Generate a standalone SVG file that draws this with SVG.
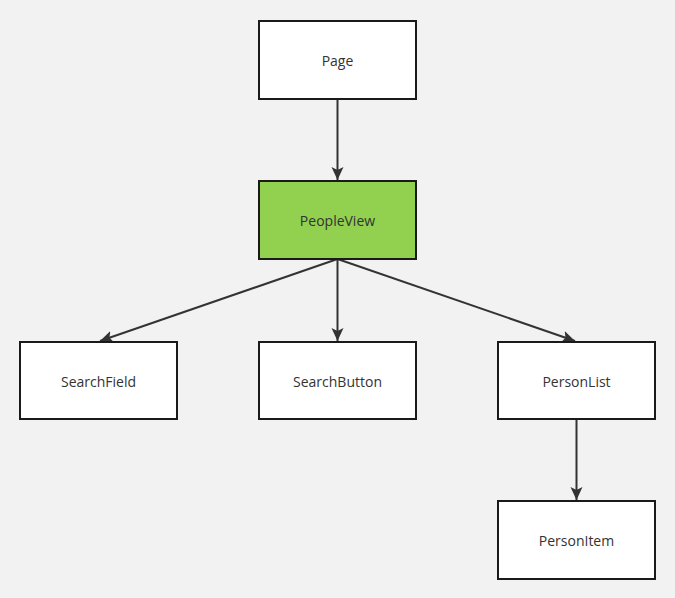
<svg xmlns="http://www.w3.org/2000/svg" width="675" height="598" viewBox="0 0 675 598">
<style>
.node rect{fill:#ffffff;stroke:#1a1a1a;stroke-width:2}
.node.hl rect{fill:#92d050}
.node text{font-family:"Open Sans","Noto Sans","Liberation Sans",sans-serif;font-size:14px;fill:#333333;text-anchor:middle;dominant-baseline:central}
.edge{stroke:#333333;stroke-width:2;fill:none;marker-end:url(#arr)}
</style>
<defs>
<marker id="arr" markerUnits="userSpaceOnUse" markerWidth="14" markerHeight="14" viewBox="0 0 14 14" refX="13" refY="7" orient="auto">
<path d="M0,1 L13,7 L0,13 L3,7 Z" fill="#333333"/>
</marker>
</defs>
<rect width="675" height="598" fill="#f2f2f2"/>
<g id="connectors">
<line class="edge" x1="337.5" y1="99" x2="337.5" y2="180"/>
<line class="edge" x1="337.5" y1="259" x2="337.5" y2="341"/>
<line class="edge" x1="337.5" y1="259" x2="100" y2="341"/>
<line class="edge" x1="337.5" y1="259" x2="575" y2="341"/>
<line class="edge" x1="576.5" y1="419" x2="576.5" y2="500"/>
</g>
<g id="page" class="node"><rect x="259" y="21" width="157" height="78"/><text x="337.5" y="60">Page</text></g>
<g id="peopleview" class="node hl"><rect x="259" y="181" width="157" height="78"/><text x="337.5" y="220">PeopleView</text></g>
<g id="searchfield" class="node"><rect x="20" y="342" width="157" height="77"/><text x="98.5" y="381">SearchField</text></g>
<g id="searchbutton" class="node"><rect x="259" y="342" width="157" height="77"/><text x="337.5" y="381">SearchButton</text></g>
<g id="personlist" class="node"><rect x="498" y="342" width="157" height="77"/><text x="576.5" y="381">PersonList</text></g>
<g id="personitem" class="node"><rect x="498" y="501" width="157" height="78"/><text x="576.5" y="540">PersonItem</text></g>
</svg>
